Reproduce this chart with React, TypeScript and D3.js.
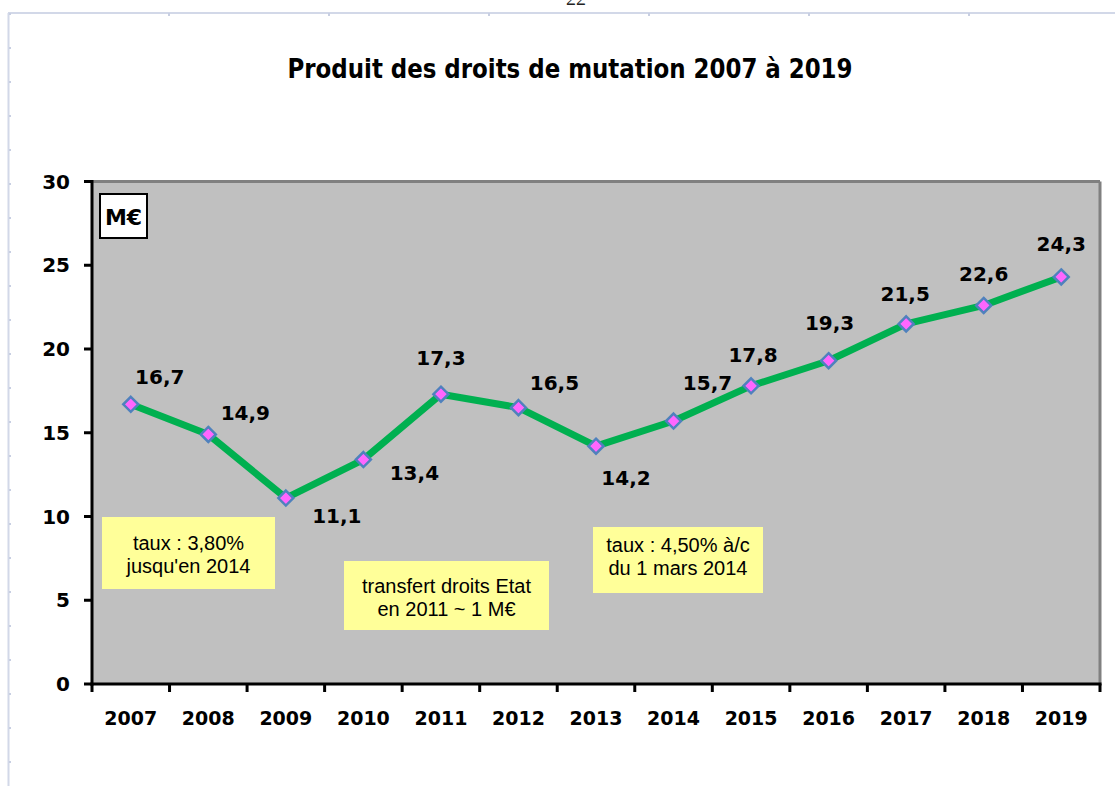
import React from "react";
import * as d3 from "d3";

const years = ["2007","2008","2009","2010","2011","2012","2013","2014","2015","2016","2017","2018","2019"];
const values = [16.7, 14.9, 11.1, 13.4, 17.3, 16.5, 14.2, 15.7, 17.8, 19.3, 21.5, 22.6, 24.3];
const yTicks = [0, 5, 10, 15, 20, 25, 30];
// label offsets (dx from point centre, dy to baseline)
const labelDx = [29, 37, 51, 51, 0, 36, 30, 34, 2, 1, -1, 0, 0];
const labelDy = [-20, -14, 25, 20, -29, -18, 39, -31, -24, -31, -23, -24, -26];
const title = "Produit des droits de mutation 2007 à 2019";
const noteLines = [
  ["taux : 3,80%", "jusqu'en 2014"],
  ["transfert droits Etat", "en 2011 ~ 1 M€"],
  ["taux : 4,50% à/c", "du 1 mars 2014"],
];
const noteBoxes = [
  { x0: 102, x1: 275, y0: 517, y1: 589, ty: 550 },
  { x0: 344, x1: 549, y0: 561, y1: 630, ty: 593 },
  { x0: 593, x1: 763, y0: 527, y1: 593, ty: 552 },
];

const W = 1115, H = 786;
const L = 92, R = 1100, T = 181.5, B = 684;
const boldFont = "'DejaVu Sans', sans-serif";

export default function App() {
  const x = d3.scaleBand().domain(years).range([L, R]);
  const y = d3.scaleLinear().domain([0, 30]).range([B, T]);
  const cx = (d: string) => (x(d) as number) + x.bandwidth() / 2;
  const line = d3.line<number>().x((_, i) => cx(years[i])).y((v) => y(v));
  const leftTicks = d3.range(13, H, 34);
  const topTicks = d3.range(168, W, 160);

  return (
    <svg width={W} height={H} style={{ position: "absolute", left: 0, top: 0, background: "#fff" }}>
      {/* page frame */}
      <text x={576} y={5} fontSize={20} fontFamily="'Liberation Serif', serif" textAnchor="middle" fill="#222">22</text>
      <line x1={8} x2={W} y1={13} y2={13} stroke="#d2d8e8" strokeWidth={2} />
      <line x1={8.5} x2={8.5} y1={13} y2={H} stroke="#d2d8e8" strokeWidth={2} />
      {topTicks.map((t) => (
        <rect key={"tt" + t} x={t} y={13} width={2} height={3} fill="#c8cfe2" />
      ))}
      {leftTicks.map((t) => (
        <rect key={"lt" + t} x={9} y={t} width={2} height={2} fill="#c8cfe2" />
      ))}

      {/* title */}
      <text x={570} y={78} textAnchor="middle" fontFamily="'DejaVu Sans Condensed', 'DejaVu Sans', sans-serif"
        fontWeight="bold" fontSize={27} textLength={565} lengthAdjust="spacingAndGlyphs" fill="#000">{title}</text>

      {/* plot area */}
      <rect x={L} y={T} width={R - L} height={B - T} fill="#c0c0c0" />
      <line x1={L} x2={R} y1={T} y2={T} stroke="#808080" strokeWidth={3} />
      <line x1={R} x2={R} y1={T} y2={B} stroke="#808080" strokeWidth={3} />

      {/* y axis */}
      <line x1={L} x2={L} y1={T - 1.5} y2={B + 1.5} stroke="#000" strokeWidth={3} />
      {yTicks.map((t) => (
        <g key={"y" + t}>
          <line x1={L - 8} x2={L} y1={y(t)} y2={y(t)} stroke="#000" strokeWidth={3} />
          <text x={70} y={y(t)} dy="0.36em" textAnchor="end" fontFamily={boldFont} fontWeight="bold" fontSize={20}>{t}</text>
        </g>
      ))}

      {/* x axis */}
      <line x1={L - 1.5} x2={R + 1.5} y1={B} y2={B} stroke="#000" strokeWidth={3} />
      {[...years.map((d) => x(d) as number), R].map((t, i) => (
        <line key={"xt" + i} x1={t} x2={t} y1={B} y2={B + 8} stroke="#000" strokeWidth={3} />
      ))}
      {years.map((d) => (
        <text key={"xl" + d} x={cx(d)} y={725} textAnchor="middle" fontFamily={boldFont} fontWeight="bold" fontSize={19}>{d}</text>
      ))}

      {/* M€ box */}
      <rect x={100} y={194} width={47} height={44} fill="#fff" stroke="#000" strokeWidth={2} />
      <text x={123.5} y={225} textAnchor="middle" fontFamily={boldFont} fontWeight="bold" fontSize={22}>M€</text>

      {/* notes */}
      {noteBoxes.map((n, i) => (
        <g key={"n" + i}>
          <rect x={n.x0} y={n.y0} width={n.x1 - n.x0} height={n.y1 - n.y0} fill="#ffff99" />
          {noteLines[i].map((s, j) => (
            <text key={j} x={(n.x0 + n.x1) / 2} y={n.ty + j * 23} textAnchor="middle"
              fontFamily="'Liberation Sans', Arial, sans-serif" fontSize={20} fill="#000">{s}</text>
          ))}
        </g>
      ))}

      {/* line */}
      <path d={line(values) as string} fill="none" stroke="#00b050" strokeWidth={7} strokeLinejoin="round" />
      {values.map((v, i) => {
        const px = cx(years[i]);
        const py = y(v);
        const s = 7.5;
        return (
          <path key={"m" + i} d={`M${px},${py - s}L${px + s},${py}L${px},${py + s}L${px - s},${py}Z`}
            fill="#ff66ff" stroke="#4f81bd" strokeWidth={2.5} />
        );
      })}
      {values.map((v, i) => (
        <text key={"dl" + i} x={cx(years[i]) + labelDx[i]} y={y(v) + labelDy[i]} textAnchor="middle"
          fontFamily={boldFont} fontWeight="bold" fontSize={20}>{String(v).replace(".", ",")}</text>
      ))}
    </svg>
  );
}
